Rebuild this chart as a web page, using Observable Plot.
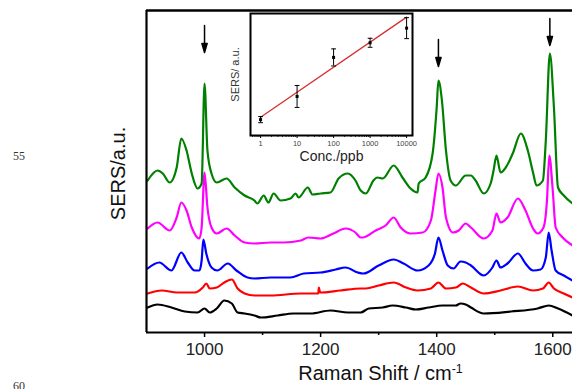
<!DOCTYPE html>
<html><head><meta charset="utf-8">
<script src="https://cdn.jsdelivr.net/npm/d3@7"></script>
<script src="https://cdn.jsdelivr.net/npm/@observablehq/plot@0.6"></script>
<style>
body{margin:0;background:#fff;}
#wrap{position:relative;width:572px;height:389px;overflow:hidden;font-family:"Liberation Sans",Arial,sans-serif;}
#inset{position:absolute;left:220px;top:0;}
.lineno{position:absolute;font-family:"Liberation Serif","Times New Roman",serif;font-size:12px;color:#333;line-height:14px;}
</style></head><body>
<div id="wrap"><div class="lineno" style="left:13px;top:149px">55</div><div class="lineno" style="left:13px;top:379px">60</div></div>
<script>
// ---- main spectra: [Raman shift (cm-1), stacked intensity (a.u.)] ----
const green = [[902,152],[919,162],[928,159],[940,150],[952,165],[960,194],[969,182],[978,159],[988,144],[995,149],[1000,249],[1005,182],[1012,159],[1021,150],[1038,154],[1052,145],[1069,137],[1086,132],[1091,129],[1102,137],[1110,130],[1119,139],[1131,132],[1148,134],[1157,139],[1162,135],[1178,145],[1186,138],[1200,139],[1217,140],[1231,154],[1247,159],[1260,152],[1269,142],[1278,139],[1291,152],[1298,155],[1307,154],[1326,167],[1341,155],[1355,144],[1367,140],[1369,149],[1381,155],[1393,179],[1400,225],[1403,252],[1409,232],[1416,182],[1424,152],[1433,147],[1450,157],[1459,157],[1467,152],[1481,139],[1493,149],[1498,162],[1503,177],[1510,160],[1519,165],[1531,179],[1545,199],[1557,182],[1566,160],[1572,147],[1583,152],[1588,192],[1595,279],[1602,225],[1609,145],[1619,137],[1634,129]];
const magenta = [[902,104],[919,110],[940,102],[952,115],[960,130],[969,122],[978,105],[991,94],[995,105],[1000,160],[1005,125],[1012,105],[1021,99],[1038,104],[1052,97],[1069,90],[1086,89],[1114,90],[1136,90],[1166,92],[1179,95],[1200,94],[1222,99],[1243,104],[1260,100],[1269,95],[1272,95],[1295,102],[1312,107],[1326,115],[1338,105],[1355,99],[1376,100],[1390,112],[1398,142],[1403,159],[1410,145],[1416,115],[1428,100],[1438,102],[1450,109],[1459,105],[1481,94],[1496,102],[1503,119],[1510,110],[1522,115],[1540,134],[1553,122],[1566,104],[1574,99],[1584,105],[1590,132],[1594,177],[1600,142],[1605,105],[1617,95],[1634,87]];
const blue = [[902,64],[922,70],[943,62],[960,80],[971,70],[983,62],[991,62],[995,72],[998,93],[1003,79],[1012,65],[1022,62],[1040,69],[1055,62],[1074,55],[1086,54],[1114,55],[1148,55],[1171,59],[1200,60],[1226,63],[1243,65],[1264,60],[1274,59],[1300,67],[1326,73],[1343,69],[1367,62],[1386,67],[1397,79],[1403,95],[1410,82],[1419,67],[1429,64],[1441,71],[1450,70],[1459,67],[1481,57],[1496,65],[1503,72],[1510,65],[1522,69],[1540,79],[1553,69],[1566,62],[1579,63],[1588,75],[1593,100],[1598,82],[1605,62],[1619,57],[1634,52]];
const red = [[902,39],[926,42],[953,40],[983,40],[997,45],[1003,49],[1009,44],[1021,45],[1034,50],[1047,53],[1057,44],[1069,39],[1086,37],[1114,37],[1166,39],[1196,39],[1197,45],[1199,40],[1234,42],[1269,44],[1278,44],[1300,47],[1326,50],[1347,45],[1367,42],[1390,44],[1403,50],[1416,44],[1433,45],[1445,49],[1459,45],[1481,39],[1510,42],[1540,46],[1566,42],[1583,44],[1593,50],[1602,44],[1619,39],[1634,35]];
const black = [[902,25],[919,28],[943,25],[966,21],[988,20],[1000,24],[1009,20],[1021,24],[1034,32],[1047,29],[1057,20],[1069,19],[1086,17],[1097,15],[1126,17],[1153,19],[1183,19],[1217,22],[1247,20],[1269,20],[1283,24],[1307,25],[1324,27],[1347,25],[1364,23],[1386,25],[1410,27],[1433,27],[1441,29],[1450,28],[1459,25],[1481,19],[1528,21],[1574,24],[1593,27],[1609,24],[1634,17]];
const seriesColors = {black:"#000000", red:"#ff0000", blue:"#0000ff", magenta:"#ff00ff", green:"#008000"};
const xDomain = [900, 1634];
const yDomain = [0, 322];
const majorTicks = [1000, 1200, 1400, 1600];
const minorTicks = [1100, 1300, 1500];
// arrows marking the peaks: x position and tip intensity
const arrowX = [1000, 1403, 1595];
const arrowTip = [280, 266, 287];

// ---- inset: calibration ----
const conc = [1, 10, 100, 1000, 10000];
const sers = [13, 32, 64, 76, 88];
const sersErr = [2.5, 9, 7, 3.7, 8.6];
const fitConc = [1, 10000];
const fitSers = [15, 97];

const toRows = a => a.map(([x, y]) => ({x, y}));
const arrowShape = {
  draw(ctx, l) {
    ctx.moveTo(0, 0); ctx.lineTo(0, -l + 6);
    ctx.moveTo(0, -l); ctx.lineTo(-2.6, -l + 9); ctx.lineTo(2.6, -l + 9); ctx.closePath();
  }
};
const capShape = { draw(ctx, l) { ctx.moveTo(0, 0); ctx.lineTo(0, -l); } };

const font = '"Liberation Sans", Arial, sans-serif';
const main = Plot.plot({
  width: 572, height: 389,
  marginLeft: 146, marginRight: 0, marginTop: 10, marginBottom: 57,
  style: {background: "transparent", fontFamily: font, overflow: "visible"},
  x: {domain: xDomain, label: null},
  y: {domain: yDomain, axis: null},
  marks: [
    ...[["black", black], ["red", red], ["blue", blue], ["magenta", magenta], ["green", green]].map(([n, d]) =>
      Plot.line(toRows(d), {x: "x", y: "y", stroke: seriesColors[n], strokeWidth: 2.2, curve: "monotone-x"})),
    Plot.ruleX([xDomain[0]], {strokeWidth: 2.2}),
    Plot.ruleY([yDomain[0]], {strokeWidth: 2.2}),
    Plot.ruleY([yDomain[1]], {strokeWidth: 2.5}),
    Plot.axisX({ticks: majorTicks, tickSize: 5, tickPadding: 5, tickFormat: d => String(d), fontSize: 17, fill: "#222", label: null, strokeWidth: 1.5}),
    Plot.axisX({ticks: minorTicks, tickSize: 3, tickFormat: () => "", label: null, strokeWidth: 1.5}),
    Plot.vector(arrowX.map((x, i) => ({x, y: arrowTip[i]})), {x: "x", y: "y", length: 27, rotate: 180, anchor: "end", shape: arrowShape, stroke: "black", fill: "black", strokeWidth: 1.5}),
    Plot.text(["SERS/a.u."], {frameAnchor: "left", textAnchor: "middle", dx: -28, dy: 2, rotate: -90, fontSize: 20, fill: "#111"}),
    Plot.text(["Raman Shift / cm-1"], {frameAnchor: "bottom", textAnchor: "middle", dx: 21, dy: 47, fontSize: 20, fill: "#111"})
  ]
});
d3.select(main).selectAll("text").filter(function(){ return this.textContent === "Raman Shift / cm-1"; }).each(function(){
  const t = d3.select(this);
  t.text("Raman Shift / cm");
  t.append("tspan").attr("dy", "-0.55em").attr("font-size", "0.62em").text("-1");
});

const minorLog = [];
for (let e = -1; e <= 4; e++) for (let m = 2; m <= 9; m++) { const v = m * 10 ** e; if (v > 0.53 && v < 14500) minorLog.push(v); }
const pts = conc.map((c, i) => ({c, s: sers[i], lo: sers[i] - sersErr[i], hi: sers[i] + sersErr[i]}));
const inset = Plot.plot({
  width: 200, height: 170,
  marginLeft: 30, marginRight: 8, marginTop: 13, marginBottom: 35,
  style: {background: "transparent", fontFamily: font, overflow: "visible"},
  x: {type: "log", domain: [0.53, 14500], label: null},
  y: {domain: [0, 100], axis: null},
  marks: [
    Plot.frame({stroke: "black", strokeWidth: 2}),
    Plot.line(fitConc.map((c, i) => ({c, s: fitSers[i]})), {x: "c", y: "s", stroke: "#d83030", strokeWidth: 1.3}),
    Plot.ruleX(pts, {x: "c", y1: "lo", y2: "hi", stroke: "black", strokeWidth: 1}),
    Plot.vector(pts, {x: "c", y: "hi", length: 4, rotate: 90, anchor: "middle", shape: capShape, stroke: "black", strokeWidth: 1}),
    Plot.vector(pts, {x: "c", y: "lo", length: 4, rotate: 90, anchor: "middle", shape: capShape, stroke: "black", strokeWidth: 1}),
    Plot.dot(pts, {x: "c", y: "s", symbol: "square", r: 1.7, fill: "black"}),
    Plot.axisX({ticks: conc, tickSize: 3, tickPadding: 2, tickFormat: d => String(d), fontSize: 7.5, fill: "#444", label: null}),
    Plot.axisX({ticks: minorLog, tickSize: 1.8, tickFormat: () => "", label: null}),
    Plot.text(["SERS/ a.u."], {frameAnchor: "left", textAnchor: "middle", dx: -15, rotate: -90, fontSize: 11, fill: "#333"}),
    Plot.text(["Conc./ppb"], {frameAnchor: "bottom", textAnchor: "middle", dy: 25, fontSize: 14, fill: "#222"})
  ]
});
inset.id = "inset";
const wrap = document.getElementById("wrap");
wrap.appendChild(main);
wrap.appendChild(inset);
</script>
</body></html>
